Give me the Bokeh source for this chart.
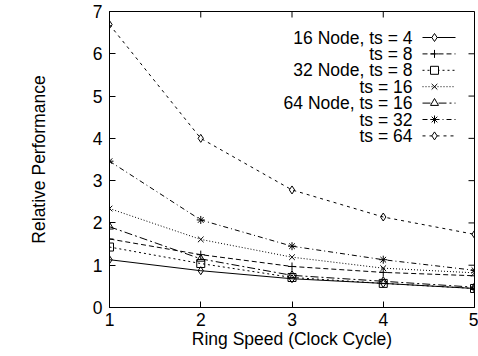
from bokeh.plotting import figure
from bokeh.models import Range1d, FixedTicker
from bokeh.embed import file_html
from bokeh.resources import INLINE
from bokeh.core.properties import value

ring_speed = [1, 2, 3, 4, 5]
n16_ts4 = [1.13, 0.87, 0.68, 0.57, 0.45]
n16_ts8 = [1.62, 1.25, 0.97, 0.83, 0.75]
n32_ts8 = [1.43, 1.04, 0.71, 0.57, 0.45]
n32_ts16 = [2.34, 1.61, 1.19, 0.93, 0.82]
n64_ts16 = [1.91, 1.15, 0.76, 0.62, 0.48]
n64_ts32 = [3.46, 2.07, 1.45, 1.13, 0.88]
n64_ts64 = [6.69, 4.00, 2.78, 2.14, 1.73]

labels = ["16 Node, ts = 4", "ts = 8", "32 Node, ts = 8", "ts = 16",
          "64 Node, ts = 16", "ts = 32", "ts = 64"]
series = [n16_ts4, n16_ts8, n32_ts8, n32_ts16, n64_ts16, n64_ts32, n64_ts64]
markers = ["diamond", "cross", "square", "x", "triangle", "asterisk", "diamond"]
dashes = ["solid", "5 3", "2 3", "1 2", "8 3 2 3", "5 3 1 3", "3 4"]

x_ticks = [1, 2, 3, 4, 5]
y_ticks = [0, 1, 2, 3, 4, 5, 6, 7]
x_min, x_max = 1, 5
y_min, y_max = 0, 7

FONT = "Liberation Sans"
FS = "17.5px"

W, H = 478, 356
L, R, T, B = 109, 4, 11, 49
TICK = 6

p = figure(width=W, height=H, output_backend="svg", toolbar_location=None,
           x_range=Range1d(x_min, x_max), y_range=Range1d(y_min, y_max),
           min_border_left=L, min_border_right=R, min_border_top=T, min_border_bottom=B,
           x_axis_label="Ring Speed (Clock Cycle)", y_axis_label="Relative Performance")
p.grid.visible = False
p.outline_line_color = "black"
p.outline_line_width = 1
p.background_fill_color = "white"
p.border_fill_color = "white"

for ax in p.xaxis + p.yaxis:
    ax.major_tick_in = TICK
    ax.major_tick_out = 0
    ax.minor_tick_line_color = None
    ax.axis_line_color = "black"
    ax.major_tick_line_color = "black"
    ax.major_label_text_font = FONT
    ax.major_label_text_font_size = FS
    ax.major_label_text_color = "black"
    ax.axis_label_text_font = FONT
    ax.axis_label_text_font_size = FS
    ax.axis_label_text_font_style = "normal"
    ax.axis_label_text_color = "black"
p.xaxis.ticker = FixedTicker(ticks=x_ticks)
p.yaxis.ticker = FixedTicker(ticks=y_ticks)
p.xaxis.major_label_standoff = 5
p.xaxis.axis_label_standoff = 0
p.yaxis.major_label_standoff = 7
p.yaxis.axis_label_standoff = 41

fw = W - L - R
fh = H - T - B
def dx(px):
    return x_min + (px - L) * (x_max - x_min) / fw
def dy(py):
    return y_min + (H - B - py) * (y_max - y_min) / fh

# mirrored inward ticks on top and right edges
tx = TICK * (x_max - x_min) / fw
ty = TICK * (y_max - y_min) / fh
p.segment(x0=x_ticks, y0=[y_max] * len(x_ticks), x1=x_ticks, y1=[y_max - ty] * len(x_ticks),
          line_color="black", line_width=1)
p.segment(x0=[x_max] * len(y_ticks), y0=y_ticks, x1=[x_max - tx] * len(y_ticks), y1=y_ticks,
          line_color="black", line_width=1)

for ys, mk, dash in zip(series, markers, dashes):
    p.line(ring_speed, ys, line_color="black", line_width=1, line_dash=dash)
    p.scatter(ring_speed, ys, marker=mk, size=8, line_color="black",
              fill_color=None, line_width=1)

# manual gnuplot-style legend (text, then sample) -- layout in pixels
row0, row_step = 37, 16.4
text_right, seg_l, seg_r, mk_x = 412, 422, 455, 434
for i, (lab, mk, dash) in enumerate(zip(labels, markers, dashes)):
    py = row0 + i * row_step
    p.text(x=[dx(text_right)], y=[dy(py)], text=[lab], text_align="right",
           text_baseline="middle", text_font=value(FONT), text_font_size=FS,
           text_color="black")
    p.segment(x0=[dx(seg_l)], y0=[dy(py)], x1=[dx(seg_r)], y1=[dy(py)],
              line_color="black", line_width=1, line_dash=dash)
    p.scatter(x=[dx(mk_x)], y=[dy(py)], marker=mk, size=8,
              line_color="black", fill_color="white", line_width=1)

open("out.html", "w").write(file_html(p, INLINE))
